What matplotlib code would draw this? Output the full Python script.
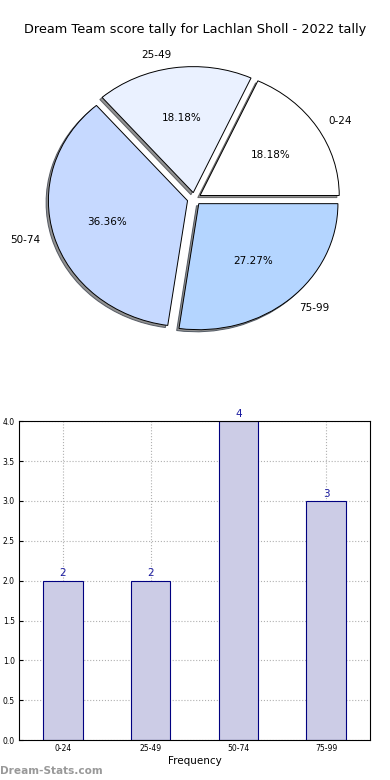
import matplotlib
matplotlib.use('Agg')
import matplotlib.pyplot as plt

categories = ['0-24', '25-49', '50-74', '75-99']
counts = [2, 2, 4, 3]
pie_colors = ['#ffffff', '#eaf1ff', '#c6d9ff', '#b4d5ff']

fig = plt.figure(figsize=(3.9, 7.8), dpi=100)

fig.text(0.5, 0.962, 'Dream Team score tally for Lachlan Sholl - 2022 tally',
         ha='center', va='center', fontsize=9.3)

# pie
ax1 = fig.add_axes([0.052, 0.543, 0.892, 0.404])
wedges, texts, autotexts = ax1.pie(
    counts, labels=categories, colors=pie_colors, explode=[0.05] * 4,
    autopct='%.2f%%', startangle=0,
    shadow={'ox': -0.012, 'oy': -0.012, 'facecolor': '#777777', 'alpha': 0.8},
    wedgeprops={'edgecolor': 'black', 'linewidth': 0.7},
    textprops={'fontsize': 7.5})
ax1.set_aspect('auto')
ax1.set_xlim(-1.25, 1.25)
ax1.set_ylim(-1.25, 1.25)

# bars
ax2 = fig.add_axes([0.049, 0.051, 0.9, 0.409])
x = range(len(categories))
ax2.bar(x, counts, width=0.45, color='#cccce6',
        edgecolor='#000080', linewidth=0.8, zorder=2)
for xi, c in zip(x, counts):
    ax2.text(xi, c + 0.03, str(c), ha='center', va='bottom', fontsize=7.5,
             color='#1a1aa0')
ax2.set_xlim(-0.5, 3.5)
ax2.set_ylim(0, 4)
ax2.set_xticks(list(x))
ax2.set_xticklabels(categories)
yt = [0, 0.5, 1, 1.5, 2, 2.5, 3, 3.5, 4]
ax2.set_yticks(yt)
ax2.set_yticklabels(['%.1f' % v for v in yt])
ax2.tick_params(labelsize=5.5, length=3, direction='in', pad=3)
ax2.grid(True, linestyle=':', color='#b0b0b0', linewidth=0.8, zorder=0)
ax2.set_xlabel('Frequency', fontsize=7.5, labelpad=2)

fig.text(0.0, 0.012, 'Dream-Stats.com', ha='left', va='center', fontsize=7.6,
         color='#999999', fontweight='bold')

fig.savefig('out.png', dpi=100)
